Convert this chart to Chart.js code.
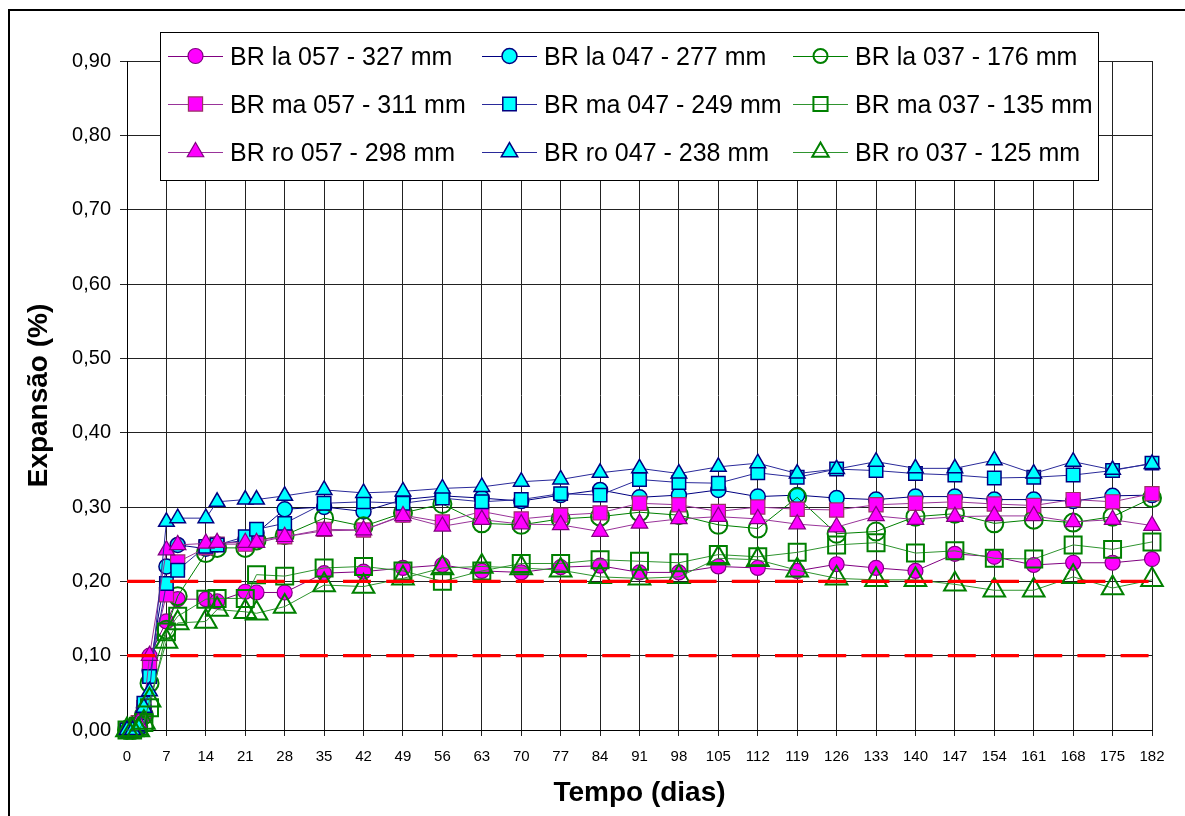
<!DOCTYPE html>
<html>
<head>
<meta charset="utf-8">
<script src="https://cdn.jsdelivr.net/npm/chart.js@4.4.1/dist/chart.umd.min.js"></script>
<style>
html,body{margin:0;padding:0;background:#fff;}
canvas{display:block;}
</style>
</head>
<body>
<canvas id="c" width="1185" height="816"></canvas>
<script>
// ---- DATA ----
const days = [0,1,2,3,4,7,9,14,16,21,23,28,35,42,49,56,63,70,77,84,91,98,105,112,119,126,133,140,147,154,161,168,175,182];

const seriesLabels = [
  'BR la 057 - 327 mm','BR la 047 - 277 mm','BR la 037 - 176 mm',
  'BR ma 057 - 311 mm','BR ma 047 - 249 mm','BR ma 037 - 135 mm',
  'BR ro 057 - 298 mm','BR ro 047 - 238 mm','BR ro 037 - 125 mm'
];

const la057 = [0,0,0.005,0.02,0.10,0.146,0.176,0.176,0.173,0.186,0.185,0.185,0.211,0.213,0.218,0.222,0.214,0.212,0.219,0.221,0.212,0.212,0.220,0.218,0.214,0.223,0.218,0.214,0.237,0.233,0.222,0.225,0.225,0.230];
const la047 = [0,0,0.005,0.03,0.08,0.220,0.249,0.244,0.250,0.255,0.265,0.297,0.300,0.294,0.310,0.315,0.312,0.308,0.316,0.323,0.313,0.316,0.323,0.314,0.316,0.312,0.310,0.314,0.314,0.310,0.310,0.308,0.315,0.316];
const la037 = [0,0,0.005,0.02,0.063,0.135,0.180,0.238,0.245,0.245,0.255,0.262,0.285,0.274,0.292,0.304,0.278,0.276,0.284,0.287,0.293,0.289,0.276,0.271,0.313,0.264,0.267,0.287,0.291,0.278,0.283,0.279,0.287,0.312];
const ma057 = [0,0,0.01,0.03,0.09,0.182,0.226,0.245,0.250,0.250,0.255,0.260,0.270,0.269,0.289,0.280,0.294,0.284,0.289,0.292,0.305,0.303,0.294,0.300,0.297,0.296,0.303,0.305,0.307,0.304,0.302,0.310,0.307,0.318];
const ma047 = [0,0,0.005,0.036,0.072,0.197,0.215,0.247,0.249,0.260,0.270,0.278,0.305,0.307,0.305,0.312,0.307,0.310,0.318,0.316,0.337,0.333,0.332,0.346,0.340,0.351,0.349,0.345,0.343,0.339,0.340,0.343,0.349,0.359];
const ma037 = [0,0,0.005,0.01,0.03,0.132,0.153,0.176,0.177,0.177,0.209,0.207,0.218,0.220,0.214,0.200,0.214,0.224,0.224,0.229,0.227,0.225,0.236,0.233,0.239,0.249,0.252,0.238,0.241,0.231,0.230,0.249,0.243,0.253];
const ro057 = [0,0,0.01,0.03,0.10,0.242,0.249,0.251,0.252,0.252,0.252,0.260,0.268,0.269,0.288,0.274,0.283,0.277,0.276,0.267,0.278,0.284,0.287,0.284,0.277,0.273,0.288,0.283,0.287,0.288,0.288,0.280,0.283,0.275];
const ro047 = [0,0,0.005,0.03,0.052,0.280,0.285,0.285,0.307,0.310,0.310,0.315,0.323,0.319,0.321,0.325,0.327,0.334,0.337,0.346,0.352,0.345,0.354,0.359,0.345,0.351,0.361,0.352,0.352,0.363,0.345,0.361,0.350,0.358];
const ro037 = [0,0,0,0.01,0.04,0.119,0.144,0.146,0.162,0.159,0.157,0.166,0.195,0.193,0.204,0.218,0.220,0.218,0.215,0.206,0.204,0.206,0.231,0.229,0.215,0.204,0.202,0.202,0.196,0.188,0.188,0.206,0.191,0.202];

const seriesValues = [la057, la047, la037, ma057, ma047, ma037, ro057, ro047, ro037];

const limitValues = [0.10, 0.20];
const xRange = [0, 182];
const yTickLabels = ['0,00','0,10','0,20','0,30','0,40','0,50','0,60','0,70','0,80','0,90'];

// ---- STYLES ----
const MAG = '#FF00FF', PUR = '#800080', CYA = '#00FFFF', NAV = '#000080', GRN = '#008000';
const styles = [
  {shape:'circle',   r:7.5,  lr:7.5,  fill:MAG, edge:PUR,       line:PUR, bw:1.2},
  {shape:'circle',   r:7.5,  lr:7.5,  fill:CYA, edge:NAV,       line:NAV, bw:1.5},
  {shape:'circle',   r:9,    lr:7,    fill:'rgba(0,0,0,0)', edge:GRN, line:GRN, bw:2},
  {shape:'rect',     r:10,   lr:10,   fill:MAG, edge:'#993366', line:'#993399', bw:1.2},
  {shape:'rect',     r:9.5,  lr:9.5,  fill:CYA, edge:NAV,       line:'#2a2a9a', bw:1.5},
  {shape:'rect',     r:12,   lr:10,   fill:'rgba(0,0,0,0)', edge:GRN, line:'#2f942f', bw:2},
  {shape:'triangle', r:9.5,  lr:9.5,  fill:MAG, edge:PUR,       line:'#993399', bw:1.2},
  {shape:'triangle', r:9,    lr:9.5,  fill:CYA, edge:NAV,       line:'#2a2a9a', bw:1.5},
  {shape:'triangle', r:12.5, lr:9.5,  fill:'rgba(0,0,0,0)', edge:GRN, line:'#2f942f', bw:2}
];

const FONT = '"Liberation Sans", Arial, sans-serif';

const datasets = seriesValues.map((vals, i) => {
  const s = styles[i];
  return {
    label: seriesLabels[i],
    data: days.map((d, k) => ({x: d, y: vals[k]})),
    showLine: true,
    borderColor: s.line,
    borderWidth: 1,
    pointStyle: s.shape,
    pointRadius: s.r,
    pointHoverRadius: s.r,
    pointBackgroundColor: s.fill,
    pointBorderColor: s.edge,
    pointBorderWidth: s.bw,
    legendRadius: s.lr,
    legendSlot: i,
    tension: 0,
    clip: false,
    order: 20 - i
  };
});

limitValues.forEach(v => {
  datasets.push({
    label: 'limite ' + v,
    data: [{x: xRange[0], y: v}, {x: xRange[1], y: v}],
    showLine: true,
    borderColor: '#FF0000',
    borderWidth: 3.4,
    borderDash: [28, 15.2],
    borderCapStyle: 'butt',
    pointRadius: 0,
    pointHoverRadius: 0,
    clip: false,
    order: 0
  });
});

const framePlugin = {
  id: 'frame',
  beforeDraw(chart) {
    const ctx = chart.ctx;
    ctx.save();
    ctx.fillStyle = '#fff';
    ctx.fillRect(0, 0, chart.width, chart.height);
    ctx.strokeStyle = '#000';
    ctx.lineWidth = 2;
    ctx.beginPath();
    ctx.moveTo(9, chart.height + 5);
    ctx.lineTo(9, 10);
    ctx.lineTo(chart.width + 5, 10);
    ctx.stroke();
    ctx.restore();
  }
};

function markerAt(ctx, shape, radius, bw, x, y) {
  if (Chart.helpers && Chart.helpers.drawPoint) {
    Chart.helpers.drawPoint(ctx, {pointStyle: shape, radius: radius, rotation: 0, borderWidth: bw}, x, y);
    return;
  }
  ctx.beginPath();
  if (shape === 'circle') ctx.arc(x, y, radius, 0, Math.PI * 2);
  else if (shape === 'rect') { const h = radius * Math.SQRT1_2; ctx.rect(x - h, y - h, 2 * h, 2 * h); }
  else { ctx.moveTo(x, y - radius); ctx.lineTo(x + radius * 0.866, y + radius / 2); ctx.lineTo(x - radius * 0.866, y + radius / 2); ctx.closePath(); }
  ctx.fill(); if (bw > 0) ctx.stroke();
}

const legendPlugin = {
  id: 'excelLegend',
  afterDraw(chart) {
    const ctx = chart.ctx;
    ctx.save();
    ctx.fillStyle = '#fff';
    ctx.fillRect(160.5, 32.5, 938, 148);
    ctx.strokeStyle = '#000';
    ctx.lineWidth = 1;
    ctx.strokeRect(160.5, 32.5, 938, 148);
    const colX = [168, 482, 793];
    const rowY = [56, 104, 152];
    ctx.font = '25px ' + FONT;
    ctx.textBaseline = 'alphabetic';
    ctx.textAlign = 'left';
    chart.data.datasets.forEach(ds => {
      if (ds.legendSlot === undefined) return;
      const col = ds.legendSlot % 3, row = Math.floor(ds.legendSlot / 3);
      const x0 = colX[col], y = rowY[row];
      ctx.strokeStyle = ds.borderColor;
      ctx.lineWidth = 1;
      ctx.beginPath();
      ctx.moveTo(x0, y + 0.5);
      ctx.lineTo(x0 + 55, y + 0.5);
      ctx.stroke();
      ctx.fillStyle = ds.pointBackgroundColor;
      ctx.strokeStyle = ds.pointBorderColor;
      ctx.lineWidth = ds.pointBorderWidth;
      markerAt(ctx, ds.pointStyle, ds.legendRadius, ds.pointBorderWidth, x0 + 27.5, y);
      ctx.fillStyle = '#000';
      ctx.fillText(ds.label, x0 + 62, y + 9);
    });
    ctx.restore();
  }
};

new Chart(document.getElementById('c'), {
  type: 'scatter',
  data: {datasets: datasets},
  options: {
    responsive: false,
    animation: false,
    devicePixelRatio: 1,
    layout: {padding: {left: 0, right: 33, top: 61, bottom: 0}},
    plugins: {legend: {display: false}, tooltip: {enabled: false}},
    scales: {
      x: {
        type: 'linear',
        min: xRange[0], max: xRange[1],
        afterFit(scale) { scale.height = 86; },
        ticks: {stepSize: 7, autoSkip: false, maxRotation: 0, color: '#000', padding: 12,
                font: {family: '"Liberation Sans Narrow", ' + FONT, size: 15}},
        grid: {color: '#222', lineWidth: 1, tickLength: 6, drawTicks: true},
        border: {display: true, color: '#000', width: 1},
        title: {display: true, text: 'Tempo (dias)', color: '#000',
                font: {family: FONT, size: 28, weight: 'bold'}, padding: {top: 0, bottom: 6.2}}
      },
      y: {
        min: 0, max: 0.9,
        afterFit(scale) { scale.width = 127; },
        ticks: {stepSize: 0.1, color: '#000', padding: 9,
                font: {family: FONT, size: 20},
                callback: (v, i) => yTickLabels[i]},
        grid: {color: '#222', lineWidth: 1, tickLength: 7, drawTicks: true},
        border: {display: true, color: '#000', width: 1},
        title: {display: true, text: 'Expansão (%)', color: '#000',
                font: {family: FONT, size: 28, weight: 'bold'}, padding: {top: 22.2, bottom: 0}}
      }
    }
  },
  plugins: [framePlugin, legendPlugin]
});
</script>
</body>
</html>
